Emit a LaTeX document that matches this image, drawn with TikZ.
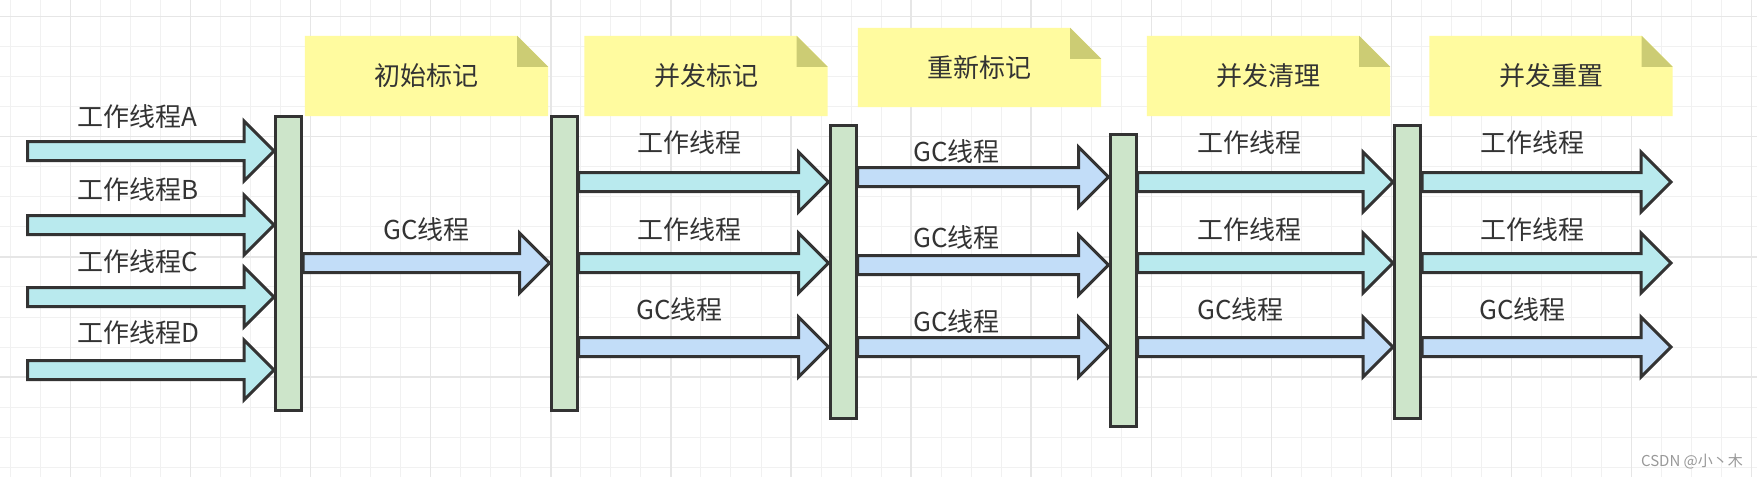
\documentclass[tikz,border=0pt]{standalone}
\usepackage{fontspec}
\newfontfamily\cjk{Noto Sans CJK SC}
\usetikzlibrary{calc}
\definecolor{ink}{HTML}{333333}
\definecolor{barfill}{HTML}{CDE5CA}
\definecolor{workfill}{HTML}{B9EAEE}
\definecolor{gcfill}{HTML}{C2DDF8}
\definecolor{notefill}{HTML}{FFFB9F}
\definecolor{foldfill}{HTML}{CCCC74}
\definecolor{gridminor}{HTML}{F1F1F1}
\definecolor{gridmajor}{HTML}{E6E6E6}
\definecolor{wmark}{HTML}{999999}
\pgfdeclarelayer{gridlayer}
\pgfdeclarelayer{notelayer}
\pgfsetlayers{gridlayer,notelayer,main}
\newcommand{\shafthalf}{9.5pt}
\newcommand{\headhalf}{30pt}
\newcommand{\headlen}{30pt}
\newcommand{\fatarrow}[3]{%
  \draw[arrowline, fill=#3] let \p1=(#1), \p2=(#2) in
    (\x1,{\y1+\shafthalf}) -- ({\x2-\headlen},{\y1+\shafthalf}) -- ({\x2-\headlen},{\y1+\headhalf})
    -- (\x2,\y1) -- ({\x2-\headlen},{\y1-\headhalf}) -- ({\x2-\headlen},{\y1-\shafthalf})
    -- (\x1,{\y1-\shafthalf}) -- cycle;}
\newcommand{\notebg}[1]{%
  \fill[notefill] (#1.north west) -- ($(#1.north east)+(-31,0)$) -- ($(#1.north east)+(0,31)$)
    -- (#1.south east) -- (#1.south west) -- cycle;
  \fill[foldfill] ($(#1.north east)+(-31,0)$) -- ($(#1.north east)+(-31,31)$) -- ($(#1.north east)+(0,31)$) -- cycle;}
\begin{document}
\begin{tikzpicture}[x=1pt,y=-1pt,
  bar/.style={draw=ink, fill=barfill, line width=3pt, rectangle, inner sep=0pt, minimum width=26pt},
  arrowline/.style={draw=ink, line width=3pt, line join=miter},
  lbl/.style={text=ink, font=\cjk\fontsize{26}{26}\selectfont, inner sep=0pt, anchor=west},
  note/.style={text=ink, font=\cjk\fontsize{26}{26}\selectfont, inner sep=0pt, minimum width=243pt, minimum height=80pt},
  gridminorline/.style={draw=gridminor, line width=1pt},
  gridmajorline/.style={draw=gridmajor, line width=1.4pt}]
\useasboundingbox (0,0) rectangle (1757,477);
\begin{pgfonlayer}{gridlayer}
  \fill[white] (0,0) rectangle (1757,477);
  \foreach \k in {0,...,58} \draw[gridminorline] ({10.5+30.02*\k},0) -- ++(0,477);
  \foreach \k in {0,...,15} \draw[gridminorline] (0,{16.5+30.05*\k}) -- ++(1757,0);
  \foreach \k in {2,6,...,58} \draw[gridmajorline] ({10.5+30.02*\k},0) -- ++(0,477);
  \foreach \k in {0,4,...,15} \draw[gridmajorline] (0,{16.5+30.05*\k}) -- ++(1757,0);
\end{pgfonlayer}

% notes
\node[note] (n1) at (426.5,76) {初始标记};
\node[note] (n2) at (706,76) {并发标记};
\node[note, minimum height=79pt] (n3) at (979.5,67.5) {重新标记};
\node[note] (n4) at (1268.5,76) {并发清理};
\node[note] (n5) at (1551,76) {并发重置};
\begin{pgfonlayer}{notelayer}
  \notebg{n1}\notebg{n2}\notebg{n3}\notebg{n4}\notebg{n5}
\end{pgfonlayer}

% bars
\node[bar, minimum height=294pt] (b1) at (288.5,263.5) {};
\node[bar, minimum height=294pt] (b2) at (564,263.5) {};
\node[bar, minimum height=293pt] (b3) at (843,272) {};
\node[bar, minimum height=292pt] (b4) at (1123,280.5) {};
\node[bar, minimum height=293pt] (b5) at (1407.5,272) {};

% free ends
\coordinate (sA) at (27.5,151);
\coordinate (sB) at (27.5,225);
\coordinate (sC) at (27.5,297);
\coordinate (sD) at (27.5,370);
\coordinate (eA) at (1671,182);
\coordinate (eB) at (1671,263);
\coordinate (eC) at (1671,347);

% column 1
\fatarrow{sA}{b1.west |- sA}{workfill}
\fatarrow{sB}{b1.west |- sB}{workfill}
\fatarrow{sC}{b1.west |- sC}{workfill}
\fatarrow{sD}{b1.west |- sD}{workfill}
\node[lbl] (la) at (77,117) {工作线程A};
\node[lbl] (lb) at (77,190) {工作线程B};
\node[lbl] (lc) at (77,262) {工作线程C};
\node[lbl] (ld) at (77,333) {工作线程D};

% column 2
\fatarrow{b1.east |- 0,263}{b2.west |- 0,263}{gcfill}
\node[lbl] (l2) at (383,230) {GC线程};

% column 3
\fatarrow{b2.east |- 0,182}{b3.west |- 0,182}{workfill}
\fatarrow{b2.east |- 0,263}{b3.west |- 0,263}{workfill}
\fatarrow{b2.east |- 0,347}{b3.west |- 0,347}{gcfill}
\node[lbl] (l3a) at (637,143) {工作线程};
\node[lbl] (l3b) at (637,230) {工作线程};
\node[lbl] (l3c) at (636,310) {GC线程};

% column 4
\fatarrow{b3.east |- 0,177}{b4.west |- 0,177}{gcfill}
\fatarrow{b3.east |- 0,265}{b4.west |- 0,265}{gcfill}
\fatarrow{b3.east |- 0,347}{b4.west |- 0,347}{gcfill}
\node[lbl] (l4a) at (913,152) {GC线程};
\node[lbl] (l4b) at (913,238) {GC线程};
\node[lbl] (l4c) at (913,322) {GC线程};

% column 5
\fatarrow{b4.east |- 0,182}{b5.west |- 0,182}{workfill}
\fatarrow{b4.east |- 0,263}{b5.west |- 0,263}{workfill}
\fatarrow{b4.east |- 0,347}{b5.west |- 0,347}{gcfill}
\node[lbl] (l5a) at (1197,143) {工作线程};
\node[lbl] (l5b) at (1197,230) {工作线程};
\node[lbl] (l5c) at (1197,310) {GC线程};

% column 6
\fatarrow{b5.east |- eA}{eA}{workfill}
\fatarrow{b5.east |- eB}{eB}{workfill}
\fatarrow{b5.east |- eC}{eC}{gcfill}
\node[lbl] (l6a) at (1480,143) {工作线程};
\node[lbl] (l6b) at (1480,230) {工作线程};
\node[lbl] (l6c) at (1479,310) {GC线程};

% watermark
\node[text=wmark, font=\cjk\fontsize{15}{15}\selectfont, inner sep=0pt] (wm) at (1692,461) {CSDN @小丶木};
\end{tikzpicture}
\end{document}
